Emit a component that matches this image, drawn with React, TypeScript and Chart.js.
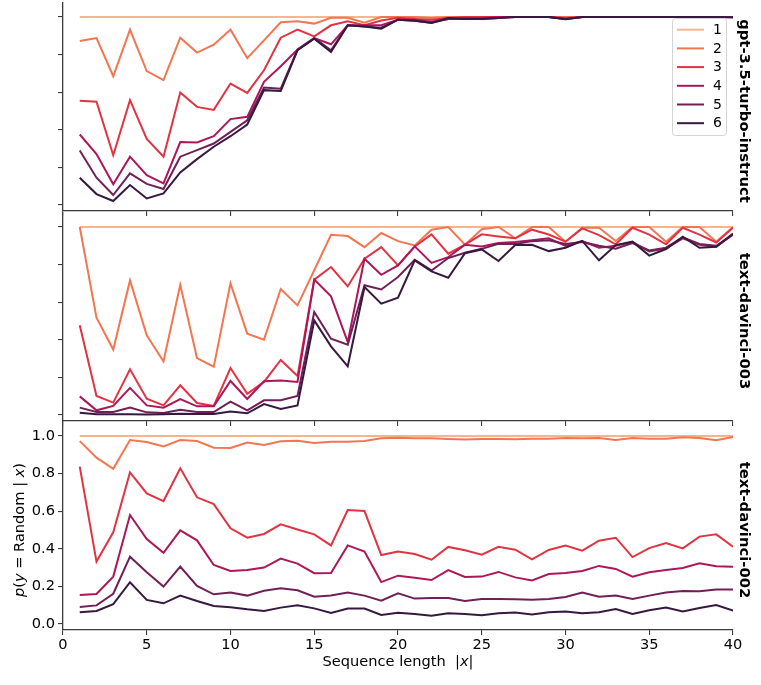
import { useEffect, useRef } from "react";
import { Chart, ChartConfiguration, registerables } from "chart.js";

Chart.register(...registerables);

// x positions (sequence length |x|)
const seqLen = [
  1, 2, 3, 4, 5, 6, 7, 8, 9, 10, 11, 12, 13, 14, 15, 16, 17, 18, 19, 20,
  21, 22, 23, 24, 25, 26, 27, 28, 29, 30, 31, 32, 33, 34, 35, 36, 37, 38, 39, 40,
];
const xTicks = [0, 5, 10, 15, 20, 25, 30, 35, 40];
const yTicks = [0, 0.2, 0.4, 0.6, 0.8, 1.0];
const seriesLabels = ["1", "2", "3", "4", "5", "6"];
const palette = ["#f6b48f", "#f37651", "#e13342", "#ad1759", "#701f57", "#35193e"];

// gpt-3.5-turbo-instruct
const gpt1 = [
  1, 1, 1, 1, 1, 1, 1, 1, 1, 1, 1, 1, 1, 1, 1, 1, 1, 1, 1, 1,
  1, 1, 1, 1, 1, 1, 1, 1, 1, 1, 1, 1, 1, 1, 1, 1, 1, 1, 1, 1,
];
const gpt2 = [
  0.873, 0.888, 0.685, 0.933, 0.712, 0.664, 0.89, 0.811, 0.853, 0.933, 0.781, 0.876, 0.972, 0.977, 0.965, 0.996, 0.996, 0.97, 1.0, 1.0,
  1.0, 0.995, 1, 1, 1, 1, 1, 1, 1, 1, 1, 1, 1, 1, 1, 1, 1, 1, 1, 1,
];
const gpt3 = [
  0.554, 0.549, 0.265, 0.558, 0.352, 0.257, 0.598, 0.522, 0.506, 0.646, 0.596, 0.717, 0.89, 0.933, 0.897, 0.956, 0.977, 0.956, 0.982, 0.996,
  0.99, 0.985, 0.995, 1, 1, 1, 1, 1, 1, 0.995, 1, 1, 1, 1, 1, 1, 1, 1, 1, 1,
];
const gpt4 = [
  0.375, 0.271, 0.11, 0.257, 0.159, 0.115, 0.335, 0.333, 0.366, 0.457, 0.469, 0.655, 0.738, 0.827, 0.888, 0.855, 0.956, 0.956, 0.956, 0.986,
  0.985, 0.975, 0.99, 0.995, 0.995, 1, 1, 1, 1, 0.99, 1, 1, 1, 1, 1, 1, 1, 1, 1, 1,
];
const gpt5 = [
  0.29, 0.145, 0.053, 0.168, 0.112, 0.085, 0.257, 0.292, 0.327, 0.389, 0.451, 0.625, 0.619, 0.827, 0.888, 0.823, 0.956, 0.95, 0.943, 0.986,
  0.98, 0.97, 0.99, 0.99, 0.99, 0.995, 1, 1, 1, 0.99, 1, 1, 1, 1, 1, 1, 1, 1, 1, 1,
];
const gpt6 = [
  0.145, 0.058, 0.021, 0.106, 0.035, 0.062, 0.173, 0.244, 0.31, 0.366, 0.428, 0.611, 0.607, 0.823, 0.885, 0.814, 0.956, 0.95, 0.938, 0.986,
  0.98, 0.968, 0.995, 0.99, 0.99, 0.995, 1, 1, 1, 0.988, 1, 1, 1, 1, 1, 1, 1, 1, 1, 0.998,
];

// text-davinci-003
const d003_1 = [
  1, 1, 1, 1, 1, 1, 1, 1, 1, 1, 1, 1, 1, 1, 1, 1, 1, 1, 1, 1,
  1, 1, 1, 1, 1, 1, 1, 1, 1, 1, 1, 1, 1, 1, 1, 1, 1, 1, 1, 1,
];
const d003_2 = [
  1.0, 0.518, 0.348, 0.716, 0.424, 0.285, 0.693, 0.303, 0.257, 0.7, 0.433, 0.401, 0.67, 0.583, 0.77, 0.959, 0.952, 0.893, 0.968, 0.925,
  0.902, 0.986, 1.0, 0.906, 0.988, 1.0, 0.94, 1.0, 1.0, 0.922, 0.996, 0.996, 0.926, 1.0, 1.0, 0.922, 1.0, 1.0, 0.922, 1.0,
];
const d003_3 = [
  0.477, 0.101, 0.066, 0.243, 0.087, 0.051, 0.158, 0.064, 0.048, 0.25, 0.113, 0.176, 0.293, 0.207, 0.72, 0.787, 0.684, 0.831, 0.893, 0.796,
  0.897, 0.961, 0.858, 0.906, 0.961, 0.95, 0.94, 0.986, 0.96, 0.922, 0.993, 0.957, 0.908, 0.996, 0.96, 0.908, 0.996, 0.96, 0.918, 0.996,
];
const d003_4 = [
  0.099, 0.025, 0.048, 0.144, 0.051, 0.039, 0.085, 0.046, 0.046, 0.181, 0.085, 0.179, 0.183, 0.176, 0.72, 0.631, 0.388, 0.831, 0.746, 0.796,
  0.897, 0.809, 0.84, 0.906, 0.897, 0.915, 0.92, 0.93, 0.94, 0.9, 0.925, 0.89, 0.9, 0.92, 0.87, 0.885, 0.94, 0.905, 0.895, 0.96,
];
const d003_5 = [
  0.039, 0.016, 0.016, 0.039, 0.014, 0.011, 0.028, 0.016, 0.016, 0.071, 0.025, 0.078, 0.078, 0.101, 0.548, 0.406, 0.374, 0.69, 0.668, 0.734,
  0.826, 0.769, 0.835, 0.863, 0.884, 0.911, 0.91, 0.925, 0.93, 0.91, 0.92, 0.9, 0.885, 0.915, 0.875, 0.89, 0.945, 0.91, 0.9, 0.96,
];
const d003_6 = [
  0.012, 0.004, 0.004, 0.004, 0.002, 0.004, 0.007, 0.005, 0.005, 0.018, 0.009, 0.058, 0.032, 0.051, 0.503, 0.365, 0.259, 0.681, 0.592, 0.624,
  0.823, 0.764, 0.73, 0.861, 0.881, 0.819, 0.904, 0.906, 0.872, 0.89, 0.926, 0.823, 0.904, 0.922, 0.848, 0.883, 0.949, 0.89, 0.895, 0.965,
];

// text-davinci-002
const d002_1 = [
  1, 1, 1, 1, 1, 1, 1, 1, 1, 1, 1, 1, 1, 1, 1, 1, 1, 1, 1, 1,
  1, 1, 1, 1, 1, 1, 1, 1, 1, 1, 1, 1, 1, 1, 1, 1, 1, 1, 1, 1,
];
const d002_2 = [
  0.973, 0.885, 0.826, 0.979, 0.968, 0.945, 0.979, 0.973, 0.938, 0.936, 0.965, 0.952, 0.972, 0.975, 0.963, 0.97, 0.97, 0.973, 0.988, 0.991,
  0.988, 0.988, 0.984, 0.981, 0.984, 0.984, 0.983, 0.985, 0.985, 0.99, 0.988, 0.99, 0.979, 0.99, 0.985, 0.985, 0.993, 0.99, 0.978, 0.995,
];
const d002_3 = [
  0.837, 0.332, 0.488, 0.807, 0.695, 0.654, 0.828, 0.674, 0.638, 0.509, 0.459, 0.479, 0.53, 0.503, 0.477, 0.418, 0.606, 0.601, 0.367, 0.385,
  0.372, 0.342, 0.41, 0.392, 0.369, 0.411, 0.395, 0.344, 0.394, 0.417, 0.39, 0.443, 0.459, 0.356, 0.404, 0.431, 0.402, 0.465, 0.477, 0.411,
];
const d002_4 = [
  0.154, 0.16, 0.252, 0.58, 0.452, 0.379, 0.498, 0.445, 0.314, 0.282, 0.287, 0.3, 0.348, 0.321, 0.27, 0.271, 0.418, 0.385, 0.223, 0.257,
  0.246, 0.234, 0.287, 0.25, 0.252, 0.277, 0.248, 0.232, 0.266, 0.271, 0.282, 0.309, 0.293, 0.252, 0.275, 0.287, 0.298, 0.323, 0.307, 0.305,
];
const d002_5 = [
  0.09, 0.099, 0.161, 0.358, 0.275, 0.199, 0.305, 0.202, 0.158, 0.167, 0.151, 0.177, 0.19, 0.179, 0.145, 0.152, 0.168, 0.151, 0.124, 0.163,
  0.135, 0.138, 0.138, 0.122, 0.133, 0.133, 0.132, 0.129, 0.133, 0.144, 0.168, 0.145, 0.152, 0.133, 0.151, 0.167, 0.176, 0.174, 0.183, 0.183,
];
const d002_6 = [
  0.062, 0.069, 0.106, 0.222, 0.128, 0.11, 0.151, 0.122, 0.096, 0.089, 0.078, 0.069, 0.087, 0.1, 0.083, 0.059, 0.082, 0.082, 0.048, 0.06,
  0.053, 0.044, 0.057, 0.053, 0.046, 0.057, 0.061, 0.05, 0.063, 0.067, 0.057, 0.062, 0.08, 0.053, 0.073, 0.087, 0.066, 0.085, 0.101, 0.071,
];

const FAMILY = "'DejaVu Sans', sans-serif";
const AXIS_COLOR = "#3a3a3a";
const TEXT_SIZE = 14.6;

type Part = { text: string; italic?: boolean };

function drawRich(ctx: CanvasRenderingContext2D, parts: Part[], cx: number, cy: number, rot: number, size: number) {
  ctx.save();
  ctx.translate(cx, cy);
  ctx.rotate(rot);
  ctx.fillStyle = "#000";
  ctx.textBaseline = "middle";
  ctx.textAlign = "left";
  const fontOf = (p: Part) => `${p.italic ? "italic " : ""}${size}px ${FAMILY}`;
  let total = 0;
  for (const p of parts) {
    ctx.font = fontOf(p);
    total += ctx.measureText(p.text).width;
  }
  let x = -total / 2;
  for (const p of parts) {
    ctx.font = fontOf(p);
    ctx.fillText(p.text, x, 0);
    x += ctx.measureText(p.text).width;
  }
  ctx.restore();
}

// model name on the right side of each panel
const sideLabel = {
  id: "sideLabel",
  afterDraw(chart: any, _args: any, opts: any) {
    const { ctx } = chart;
    const y = chart.scales.y;
    const yc = (y.getPixelForValue(0) + y.getPixelForValue(1)) / 2;
    ctx.save();
    ctx.translate(opts.x, yc);
    ctx.rotate(Math.PI / 2);
    ctx.font = `bold 14.8px ${FAMILY}`;
    ctx.textAlign = "center";
    ctx.textBaseline = "middle";
    ctx.fillStyle = "#000";
    ctx.fillText(opts.text, 0, 0);
    ctx.restore();
  },
};

// legend box inside the top panel
const innerLegend = {
  id: "innerLegend",
  afterDatasetsDraw(chart: any, _args: any, opts: any) {
    if (!opts.show) return;
    const { ctx } = chart;
    const left = 672.5, top = 16.5, w = 54, h = 117;
    ctx.save();
    ctx.beginPath();
    ctx.roundRect(left, top, w, h, 3);
    ctx.fillStyle = "rgba(255,255,255,0.85)";
    ctx.fill();
    ctx.strokeStyle = "#d4d4d4";
    ctx.lineWidth = 1;
    ctx.stroke();
    ctx.font = `14px ${FAMILY}`;
    ctx.textBaseline = "middle";
    ctx.textAlign = "left";
    chart.data.datasets.forEach((ds: any, i: number) => {
      const yy = top + 11.2 + i * 18.7;
      ctx.beginPath();
      ctx.moveTo(677, yy);
      ctx.lineTo(704, yy);
      ctx.strokeStyle = ds.borderColor;
      ctx.lineWidth = 2;
      ctx.stroke();
      ctx.fillStyle = "#000";
      ctx.fillText(ds.label, 713, yy + 0.5);
    });
    ctx.restore();
  },
};

// axis titles of the bottom panel (with italic math letters)
const axisTitles = {
  id: "axisTitles",
  afterDraw(chart: any, _args: any, opts: any) {
    if (!opts.show) return;
    const { ctx, chartArea } = chart;
    const y = chart.scales.y;
    const yc = (y.getPixelForValue(0) + y.getPixelForValue(1)) / 2;
    drawRich(
      ctx,
      [
        { text: "p", italic: true },
        { text: "(" },
        { text: "y", italic: true },
        { text: " = Random | " },
        { text: "x", italic: true },
        { text: ")" },
      ],
      20,
      yc,
      -Math.PI / 2,
      TEXT_SIZE
    );
    drawRich(
      ctx,
      [{ text: "Sequence length  |" }, { text: "x", italic: true }, { text: "|" }],
      (chartArea.left + chartArea.right) / 2,
      241,
      0,
      TEXT_SIZE
    );
  },
};

interface PanelProps {
  series: number[][];
  model: string;
  top: number;
  height: number;
  xAxisHeight: number;
  bottomPanel?: boolean;
  legend?: boolean;
}

function Panel({ series, model, top, height, xAxisHeight, bottomPanel, legend }: PanelProps) {
  const canvasRef = useRef<HTMLCanvasElement>(null);

  useEffect(() => {
    if (canvasRef.current === null) return;
    const config: ChartConfiguration<"line", { x: number; y: number }[], number> = {
      type: "line",
      data: {
        datasets: series.map((vals, i) => ({
          label: seriesLabels[i],
          data: vals.map((v, j) => ({ x: seqLen[j], y: v })),
          borderColor: palette[i],
          backgroundColor: palette[i],
          borderWidth: 2,
          pointRadius: 0,
          tension: 0,
          order: series.length - i,
        })),
      },
      options: {
        animation: false,
        responsive: false,
        events: [],
        layout: { padding: { top: 0, right: 28, left: 0, bottom: 0 } },
        scales: {
          x: {
            type: "linear",
            min: 0,
            max: 40,
            afterBuildTicks: (s: any) => {
              s.ticks = xTicks.map((v) => ({ value: v }));
            },
            afterFit: (s: any) => {
              s.height = xAxisHeight;
              s.paddingLeft = 0;
              s.paddingRight = 0;
            },
            grid: { drawOnChartArea: false, drawTicks: true, tickLength: 5, color: AXIS_COLOR, lineWidth: 1.1 },
            border: { display: true, color: AXIS_COLOR, width: 1.3 },
            ticks: {
              display: !!bottomPanel,
              color: "#000",
              font: { family: FAMILY, size: TEXT_SIZE },
              padding: 1,
              maxRotation: 0,
              callback: (v: any) => String(v),
            },
          },
          y: {
            type: "linear",
            min: -0.032,
            max: 1.08,
            afterBuildTicks: (s: any) => {
              s.ticks = yTicks.map((v) => ({ value: v }));
            },
            afterFit: (s: any) => {
              s.width = 63;
              s.paddingTop = 0;
              s.paddingBottom = 0;
            },
            grid: { drawOnChartArea: false, drawTicks: true, tickLength: 5, color: AXIS_COLOR, lineWidth: 1.1 },
            border: { display: true, color: AXIS_COLOR, width: 1.3 },
            ticks: {
              display: !!bottomPanel,
              color: "#000",
              font: { family: FAMILY, size: TEXT_SIZE },
              padding: 3,
              callback: (v: any) => Number(v).toFixed(1),
            },
          },
        },
        plugins: {
          legend: { display: false },
          tooltip: { enabled: false },
          sideLabel: { text: model, x: 743.5 },
          innerLegend: { show: !!legend },
          axisTitles: { show: !!bottomPanel },
        } as any,
      },
      plugins: [sideLabel, innerLegend, axisTitles] as any,
    };
    const chart = new Chart(canvasRef.current, config as any);
    return () => {
      chart.destroy();
    };
  }, []);

  return (
    <canvas
      ref={canvasRef}
      width={761}
      height={height}
      style={{ position: "absolute", left: 0, top, width: 761, height }}
    />
  );
}

export default function App() {
  return (
    <div style={{ position: "absolute", left: 0, top: 0, width: 761, height: 685, background: "#fff" }}>
      <Panel
        series={[gpt1, gpt2, gpt3, gpt4, gpt5, gpt6]}
        model="gpt-3.5-turbo-instruct"
        top={2}
        height={229}
        xAxisHeight={20}
        legend
      />
      <Panel
        series={[d003_1, d003_2, d003_3, d003_4, d003_5, d003_6]}
        model="text-davinci-003"
        top={212}
        height={229}
        xAxisHeight={20}
      />
      <Panel
        series={[d002_1, d002_2, d002_3, d002_4, d002_5, d002_6]}
        model="text-davinci-002"
        top={421}
        height={264}
        xAxisHeight={55}
        bottomPanel
      />
    </div>
  );
}
